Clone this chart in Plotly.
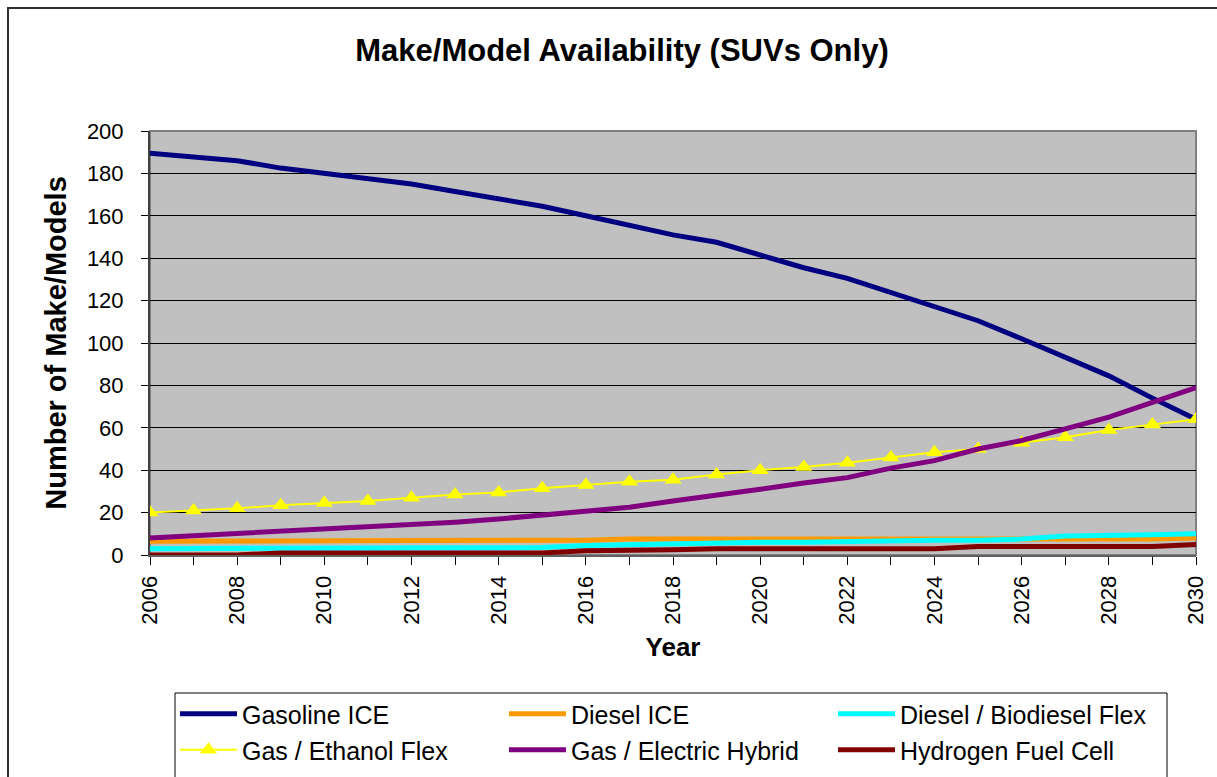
import plotly.graph_objects as go

years = list(range(2006, 2031))

gasoline_ice = [189.5, 188, 186, 182.5, 180, 177, 175, 171.5, 168, 164.5, 160, 155.5, 151,
                147.5, 141.5, 135.5, 130.5, 124, 117.5, 110.5, 102, 93, 84.5, 74, 64]
diesel_ice = [6.5, 6.5, 6.5, 6.5, 6.5, 6.5, 6.5, 7, 7, 7, 7, 7.5, 7.5,
              7.5, 7.5, 7.5, 7.5, 7.5, 7.5, 7.5, 7, 7, 7, 7.5, 8]
diesel_bio = [3, 3, 3, 3.5, 3.5, 3.5, 3.5, 3.5, 3.5, 3.5, 4.5, 5, 5.5,
              6, 6, 6, 6.5, 6.5, 7, 7, 7.5, 9, 9, 9.5, 10]
gas_ethanol = [20, 21, 22, 23.5, 24.5, 25.5, 27, 28.5, 29.5, 31.5, 33, 34.5, 35.5,
               38, 40, 41.5, 43.5, 46, 48.5, 50, 53, 55.5, 59, 61.5, 64]
gas_electric = [8, 9, 10, 11, 12, 13, 14, 15.5, 17, 19, 21, 22.5, 25.5,
                28, 31, 34, 36.5, 41, 44.5, 50, 54, 59.5, 65, 72, 79]
hydrogen = [0, 0, 0, 1, 1, 1, 1, 1, 1, 1, 2, 2, 2.5,
            3, 3, 3, 3, 3, 3, 4, 4, 4, 4, 4, 5]

series = [
    ("Gasoline ICE", gasoline_ice, "#000080", "legend"),
    ("Diesel ICE", diesel_ice, "#FF9900", "legend"),
    ("Diesel / Biodiesel Flex", diesel_bio, "#00FFFF", "legend"),
    ("Gas / Ethanol Flex", gas_ethanol, "#FFFF00", "legend2"),
    ("Gas / Electric Hybrid", gas_electric, "#800080", "legend2"),
    ("Hydrogen Fuel Cell", hydrogen, "#800000", "legend2"),
]

FONT = "Arial, Liberation Sans, sans-serif"

fig = go.Figure()
for name, vals, col, lg in series:
    if name == "Gas / Ethanol Flex":
        fig.add_trace(go.Scatter(x=years, y=vals, name=name, mode="lines+markers", legend=lg,
                                 line=dict(color=col, width=2),
                                 marker=dict(symbol="triangle-up", size=15, color=col)))
    else:
        fig.add_trace(go.Scatter(x=years, y=vals, name=name, mode="lines", legend=lg,
                                 line=dict(color=col, width=5)))

W, H = 1217, 777
L, R, T, B = 150, 21, 131, 222
pw, ph = W - L - R, H - T - B

def px_x(p):
    return (p - L) / pw

def px_y(p):
    return (H - B - p) / ph

legend_common = dict(orientation="h", x=175 / W, xanchor="left", yanchor="middle",
                     xref="container", yref="container",
                     bgcolor="rgba(0,0,0,0)", borderwidth=0,
                     font=dict(size=25, family=FONT, color="black"),
                     entrywidth=257, entrywidthmode="pixels", itemwidth=57,
                     traceorder="normal")

fig.update_layout(
    width=W, height=H,
    margin=dict(l=L, r=R, t=T, b=B),
    paper_bgcolor="white",
    plot_bgcolor="#C0C0C0",
    font=dict(family=FONT, size=22, color="black"),
    title=dict(text="<b>Make/Model Availability (SUVs Only)</b>",
               x=622 / W, xref="container", xanchor="center",
               y=1 - 50 / H, yref="container", yanchor="middle",
               font=dict(size=31, family=FONT, color="black")),
    showlegend=True,
    legend=dict(legend_common, y=1 - 714 / H),
    legend2=dict(legend_common, y=1 - 750 / H),
    xaxis=dict(range=[2006, 2030], tickmode="linear", tick0=2006, dtick=2,
               tickangle=-90, ticks="outside", ticklen=8, tickcolor="black",
               showgrid=False, zeroline=False, automargin=False,
               showline=True, linecolor="#606060", linewidth=2,
               minor=dict(dtick=1, tick0=2006, ticks="outside", ticklen=8, tickcolor="black", showgrid=False),
               tickfont=dict(size=22, family=FONT),
               ticklabelstandoff=2,
               title=dict(text="<b>Year</b>", font=dict(size=26, family=FONT), standoff=14)),
    yaxis=dict(range=[0, 200], tickmode="linear", tick0=0, dtick=20,
               ticks="outside", ticklen=7, tickcolor="black", automargin=False,
               showgrid=True, gridcolor="black", gridwidth=1, zeroline=False,
               showline=True, linecolor="#404040", linewidth=2,
               tickfont=dict(size=22, family=FONT),
               ticklabelstandoff=13,
               title=dict(text="<b>Number of Make/Models</b>", font=dict(size=29, family=FONT), standoff=12)),
)

# plot-area border (top/right gray)
fig.add_shape(type="rect", xref="paper", yref="paper", x0=0, x1=1, y0=0, y1=1,
              line=dict(color="#808080", width=2), layer="below")
# outer chart border
fig.add_shape(type="rect", xref="paper", yref="paper",
              x0=px_x(8), x1=px_x(1240), y0=px_y(800), y1=px_y(8),
              line=dict(color="#303030", width=2))
# legend box
fig.add_shape(type="rect", xref="paper", yref="paper",
              x0=px_x(175), x1=px_x(1167), y0=px_y(790), y1=px_y(693),
              line=dict(color="black", width=1), fillcolor="white", layer="below")

fig.write_html("out.html", config={"displayModeBar": False},
               post_script="document.body.style.margin='0';")
